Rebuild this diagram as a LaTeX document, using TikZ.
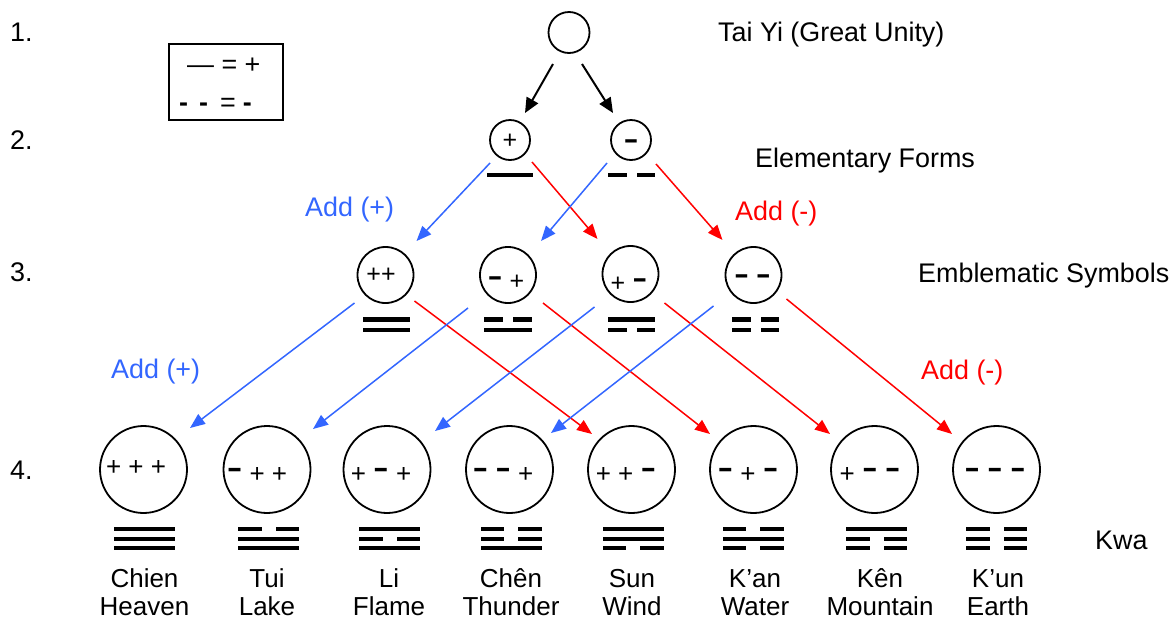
\documentclass[tikz,border=0pt]{standalone}
\usepackage{fontspec}
\usepackage{graphicx}
\setmainfont{Liberation Sans}
\usetikzlibrary{arrows.meta}
\definecolor{addblue}{RGB}{51,102,255}
\definecolor{addred}{RGB}{255,0,0}
\newcommand\mn{\raisebox{0.16em}{\scalebox{1.8}[1.1]{\textbf{-}}}}
\newcommand\yangbar[3]{\fill (#1-#3,#2-2.1) rectangle (#1+#3,#2+2.1);}
\newcommand\yinbar[4]{\fill (#1-#3,#2-2.1) rectangle (#1-#4,#2+2.1); \fill (#1+#4,#2-2.1) rectangle (#1+#3,#2+2.1);}
\begin{document}
\begin{tikzpicture}[x=1pt,y=-1pt,
 ring/.style={circle,draw,line width=1.8pt,inner sep=0pt,minimum size=#1},
 lbl/.style={font=\fontsize{26.9}{30}\selectfont,inner sep=0pt,anchor=base west},
 sgn/.style={font=\fontsize{#1}{#1}\selectfont,inner sep=0pt,anchor=base},
 kname/.style={font=\fontsize{26}{28}\selectfont,inner sep=0pt,anchor=base,align=center},
 blk/.style={line width=2pt,-{Triangle[length=15pt,width=13pt]}},
 bl/.style={addblue,line width=1.5pt,-{Triangle[length=15pt,width=12pt]}},
 rd/.style={addred,line width=1.5pt,-{Triangle[length=15pt,width=12pt]}}
]
\useasboundingbox (0,0) rectangle (1174,619);

% row labels
\node[lbl] (r1) at (10,41) {1.};
\node[lbl] (r2) at (10,149) {2.};
\node[lbl] (r3) at (10,281) {3.};
\node[lbl] (r4) at (10,479) {4.};

% legend
\draw[line width=2pt] (169,44) rectangle (283,120);
\node[lbl] (lg1) at (187,73) {— = +};
\node[lbl] (lg2) at (179,111) {\textbf{-}\hspace{11pt}\textbf{-}\hspace{12pt}=\hspace{7pt}\textbf{-}};

% titles
\node[lbl] (tTai) at (718,41) {Tai Yi (Great Unity)};
\node[lbl] (tEl) at (755,167) {Elementary Forms};
\node[lbl] (tEm) at (918,282) {Emblematic Symbols};
\node[lbl] (tKwa) at (1095,549) {Kwa};
\node[lbl,text=addblue] (ab1) at (305,216) {Add (+)};
\node[lbl,text=addblue] (ab2) at (111,378) {Add (+)};
\node[lbl,text=addred] (ar1) at (735,220) {Add (-)};
\node[lbl,text=addred] (ar2) at (921,379) {Add (-)};

% row 1
\node[ring=41pt] (top) at (569,32.5) {};
% row 2
\node[ring=40pt] (p) at (510,140) {};
\node[ring=40pt] (m) at (631,140) {};
\node[sgn=25] (tp) at (510,148) {+};
\node[sgn=25] (tm) at (631,152) {\mn};
\yangbar{510}{175}{23}
\yinbar{631.5}{175}{23.5}{5}
% row 3
\node[ring=56pt] (pp) at (385.5,275) {};
\node[ring=56pt] (mp) at (508,275) {};
\node[ring=56pt] (pm) at (630.5,274) {};
\node[ring=56pt] (mm) at (753.5,275) {};
\node[sgn=25] (tpp) at (381,282) {++};
\node[sgn=25] (tmp) at (506,289) {\mn\ +};
\node[sgn=25] (tpm) at (629,291) {+ \mn};
\node[sgn=25] (tmm) at (752.5,287) {\mn\ \mn};
\yangbar{386.5}{319.5}{23.5}\yangbar{386.5}{330}{23.5}
\yinbar{508}{319.5}{24}{5}\yangbar{508}{330}{24}
\yangbar{631.5}{319.5}{23.5}\yinbar{631.5}{330}{23.5}{5}
\yinbar{755.5}{319.5}{23.5}{5}\yinbar{755.5}{330}{23.5}{5}

% row 4 circles
\node[ring=87pt] (k1) at (143.5,469.5) {};
\node[ring=87pt] (k2) at (267,469.5) {};
\node[ring=87pt] (k3) at (387,469.5) {};
\node[ring=87pt] (k4) at (509.5,469.5) {};
\node[ring=87pt] (k5) at (631.5,469.5) {};
\node[ring=87pt] (k6) at (753.5,469.5) {};
\node[ring=87pt] (k7) at (874.5,469.5) {};
\node[ring=87pt] (k8) at (996.5,469.5) {};
\node[sgn=26] (s1) at (136,475) {+ + +};
\node[sgn=26] (s2) at (257,482) {\mn\ + +};
\node[sgn=26] (s3) at (381,482) {+ \mn\ +};
\node[sgn=26] (s4) at (503,482) {\mn\ \mn\ +};
\node[sgn=26] (s5) at (626,482) {+ + \mn};
\node[sgn=26] (s6) at (748,482) {\mn\ + \mn};
\node[sgn=26] (s7) at (870,482) {+ \mn\ \mn};
\node[sgn=26] (s8) at (995,482) {\mn\ \mn\ \mn};

% trigrams (top, middle, bottom)
\yangbar{144}{529.3}{30.5}\yangbar{144}{539}{30.5}\yangbar{144}{548.3}{30.5}
\yinbar{268.5}{529.3}{30.5}{7}\yangbar{268.5}{539}{30.5}\yangbar{268.5}{548.3}{30.5}
\yangbar{389.5}{529.3}{30.5}\yinbar{389.5}{539}{30.5}{7}\yangbar{389.5}{548.3}{30.5}
\yinbar{511}{529.3}{30.5}{7}\yinbar{511}{539}{30.5}{7}\yangbar{511}{548.3}{30.5}
\yangbar{633}{529.3}{30.5}\yangbar{633}{539}{30.5}\yinbar{633}{548.3}{30.5}{7}
\yinbar{753}{529.3}{30.5}{7}\yangbar{753}{539}{30.5}\yinbar{753}{548.3}{30.5}{7}
\yangbar{876.5}{529.3}{30.5}\yinbar{876.5}{539}{30.5}{7}\yinbar{876.5}{548.3}{30.5}{7}
\yinbar{996.5}{529.3}{30.5}{7}\yinbar{996.5}{539}{30.5}{7}\yinbar{996.5}{548.3}{30.5}{7}

% names
\node[kname] (n1) at (144.5,615) {Chien\\Heaven};
\node[kname] (n2) at (267,615) {Tui\\Lake};
\node[kname] (n3) at (389,615) {Li\\Flame};
\node[kname] (n4) at (511,615) {Chên\\Thunder};
\node[kname] (n5) at (632,615) {Sun\\Wind};
\node[kname] (n6) at (755,615) {K’an\\Water};
\node[kname] (n7) at (880,615) {Kên\\Mountain};
\node[kname] (n8) at (998,615) {K’un\\Earth};

% arrows row 1 -> 2
\draw[blk] ([shift={(-16,31.5)}]top.center) -- ([shift={(15,-27)}]p.center);
\draw[blk] ([shift={(13,31.5)}]top.center) -- ([shift={(-18,-27)}]m.center);
% row 2 -> 3
\draw[bl] ([shift={(-20,23)}]p.center) -- ([shift={(31,-34)}]pp.center);
\draw[rd] ([shift={(22,22)}]p.center) -- ([shift={(-33,-35)}]pm.center);
\draw[bl] ([shift={(-24,23)}]m.center) -- ([shift={(33,-34)}]mp.center);
\draw[rd] ([shift={(25,24)}]m.center) -- ([shift={(-31,-35)}]mm.center);
% row 3 -> 4
\draw[bl] ([shift={(-31,28)}]pp.center) -- ([shift={(46.5,-41.5)}]k1.center);
\draw[rd] ([shift={(29,26)}]pp.center) -- ([shift={(-39.5,-35.5)}]k5.center);
\draw[bl] ([shift={(-40,33)}]mp.center) -- ([shift={(46,-40.5)}]k2.center);
\draw[rd] ([shift={(35,28)}]mp.center) -- ([shift={(-43.5,-35.5)}]k6.center);
\draw[bl] ([shift={(-36,33)}]pm.center) -- ([shift={(48,-38.5)}]k3.center);
\draw[rd] ([shift={(34,29)}]pm.center) -- ([shift={(-44.5,-35.5)}]k7.center);
\draw[bl] ([shift={(-40,31)}]mm.center) -- ([shift={(41.5,-36.5)}]k4.center);
\draw[rd] ([shift={(33,24)}]mm.center) -- ([shift={(-44.5,-35.5)}]k8.center);
\end{tikzpicture}
\end{document}
